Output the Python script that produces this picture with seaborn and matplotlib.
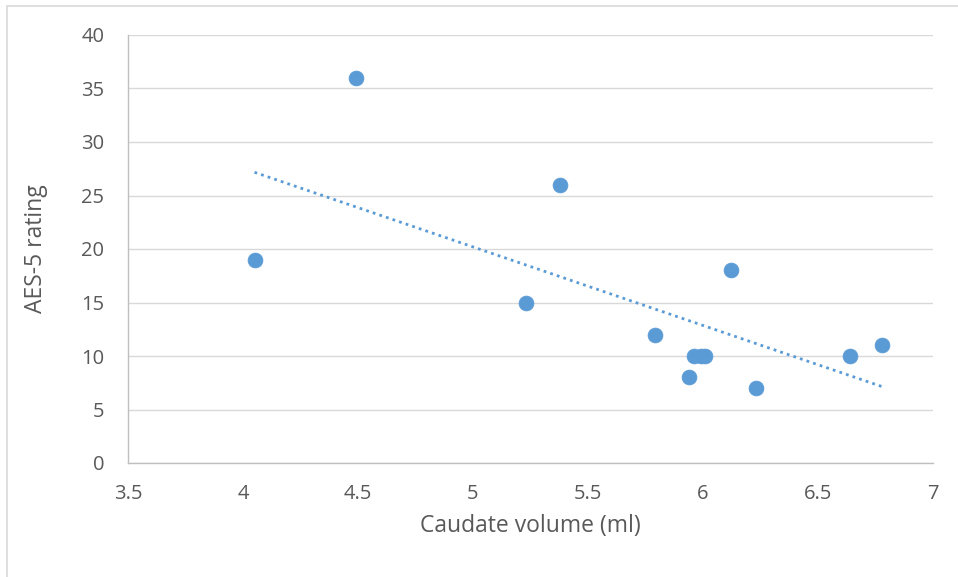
import matplotlib
matplotlib.use("Agg")
import matplotlib.pyplot as plt
import numpy as np
import pandas as pd
import seaborn as sns

# Data
caudate_volume = [4.05, 4.49, 5.23, 5.38, 5.79, 5.94, 5.96, 5.99, 6.01, 6.12, 6.23, 6.64, 6.78]
aes_rating     = [19,   36,   15,   26,   12,   8,    10,   10,   10,   18,   7,    10,   11]

x_ticks = [3.5, 4, 4.5, 5, 5.5, 6, 6.5, 7]
y_ticks = [0, 5, 10, 15, 20, 25, 30, 35, 40]

POINT_COLOUR = "#5B9BD5"
TEXT_COLOUR  = "#595959"
AXIS_COLOUR  = "#BFBFBF"

df = pd.DataFrame({"volume": caudate_volume, "rating": aes_rating})

sns.set_style("white")
plt.rcParams["font.family"] = ["Open Sans", "DejaVu Sans"]

W, H = 958, 577
fig = plt.figure(figsize=(W / 100, H / 100), dpi=100)
ax = fig.add_axes([128 / W, 1 - 463 / H, (933 - 128) / W, (463 - 35) / H])

# Grid behind everything
ax.set_axisbelow(True)
ax.yaxis.grid(True, color="#D9D9D9", linewidth=1)
ax.xaxis.grid(False)

sns.scatterplot(data=df, x="volume", y="rating", ax=ax,
                color=POINT_COLOUR, s=115, edgecolor=POINT_COLOUR,
                linewidth=0.5, zorder=3)

# Linear trend line over the data range
slope, intercept = np.polyfit(df["volume"], df["rating"], 1)
xs = np.array([df["volume"].min(), df["volume"].max()])
ax.plot(xs, slope * xs + intercept, linestyle=(0, (1, 1.5)),
        color=POINT_COLOUR, linewidth=2, zorder=2)

ax.set_xlim(3.5, 7)
ax.set_ylim(0, 40)
ax.set_xticks(x_ticks)
ax.set_xticklabels([f"{t:g}" for t in x_ticks])
ax.set_yticks(y_ticks)
ax.tick_params(axis="both", colors=TEXT_COLOUR, labelsize=14.5, length=0)
ax.tick_params(axis="y", pad=17)
ax.tick_params(axis="x", pad=15)

for side in ["top", "right"]:
    ax.spines[side].set_visible(False)
for side in ["bottom", "left"]:
    ax.spines[side].set_color(AXIS_COLOUR)
    ax.spines[side].set_linewidth(1)

ax.set_xlabel("Caudate volume (ml)", fontsize=16.5, color=TEXT_COLOUR, labelpad=7)
ax.set_ylabel("AES-5 rating", fontsize=16.5, color=TEXT_COLOUR, labelpad=24)

# Light chart frame (right and bottom edges fall outside the image)
fig.patches.append(plt.Rectangle((7 / W, -0.01), 1.02, 1 - 6 / H + 0.01,
                                 transform=fig.transFigure, fill=False,
                                 edgecolor="#D9D9D9", linewidth=1.2))

fig.savefig("out.png", dpi=100)
